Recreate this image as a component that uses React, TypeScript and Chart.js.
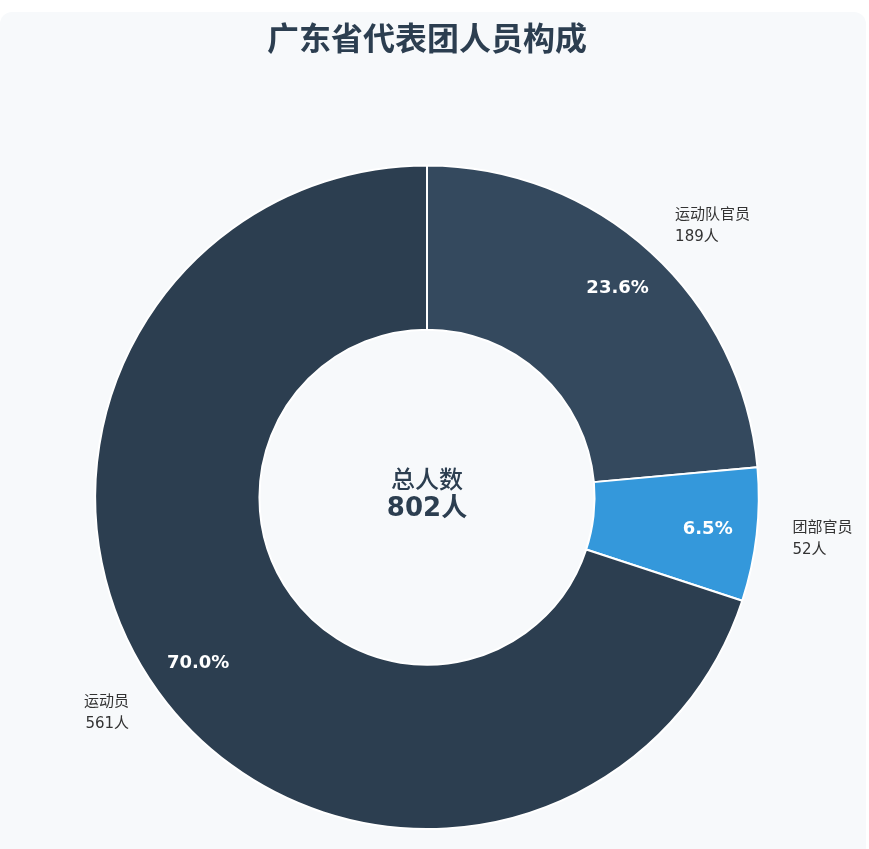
import { useRef, useEffect } from 'react';
import { Chart, registerables, type ChartConfiguration, type Plugin } from 'chart.js';

Chart.register(...registerables);

// 广东省代表团人员构成
const categories = ['运动队官员', '团部官员', '运动员'];
const counts = [189, 52, 561];
const colors = ['#34495e', '#3498db', '#2c3e50'];

const total = counts.reduce((a, b) => a + b, 0);
const labelFont = "'DejaVu Sans', 'Noto Sans CJK SC', sans-serif";

const sliceLabels: Plugin<'doughnut'> = {
    id: 'sliceLabels',
    afterDatasetsDraw(chart) {
        const ctx = chart.ctx;
        const meta = chart.getDatasetMeta(0);
        ctx.save();
        meta.data.forEach((el: any, i) => {
            const { x, y, startAngle, endAngle, innerRadius, outerRadius } = el.getProps(
                ['x', 'y', 'startAngle', 'endAngle', 'innerRadius', 'outerRadius'], true);
            const mid = (startAngle + endAngle) / 2;
            const cos = Math.cos(mid);
            const sin = Math.sin(mid);

            // percentage inside the slice
            const rp = innerRadius + (outerRadius - innerRadius) * 0.7;
            const pct = ((counts[i] / total) * 100).toFixed(1) + '%';
            ctx.fillStyle = '#ffffff';
            ctx.font = `bold 18px ${labelFont}`;
            ctx.textAlign = 'center';
            ctx.textBaseline = 'middle';
            ctx.fillText(pct, x + cos * rp, y + sin * rp);

            // name and count outside
            const ro = outerRadius + 36;
            const lx = x + cos * ro;
            const ly = y + sin * ro;
            ctx.fillStyle = '#333333';
            ctx.font = `15px ${labelFont}`;
            ctx.textAlign = cos >= 0 ? 'left' : 'right';
            ctx.fillText(categories[i], lx, ly - 11);
            ctx.fillText(counts[i] + '人', lx, ly + 11);
        });

        // centre text
        const first: any = meta.data[0];
        if (first) {
            ctx.fillStyle = '#2c3e50';
            ctx.textAlign = 'center';
            ctx.textBaseline = 'middle';
            ctx.font = `500 24px ${labelFont}`;
            ctx.fillText('总人数', first.x, first.y - 15);
            ctx.font = `bold 26px ${labelFont}`;
            ctx.fillText(total + '人', first.x, first.y + 12);
        }
        ctx.restore();
    }
};

export default function App() {
    const chartRef = useRef<HTMLCanvasElement>(null);

    useEffect(() => {
        if (!chartRef.current) return;
        const config: ChartConfiguration<'doughnut'> = {
            type: 'doughnut',
            data: {
                labels: categories,
                datasets: [{
                    data: counts,
                    backgroundColor: colors,
                    borderColor: '#ffffff',
                    borderWidth: 2,
                }]
            },
            options: {
                responsive: true,
                maintainAspectRatio: false,
                animation: false,
                cutout: '50.5%',
                layout: {
                    padding: { top: 0, bottom: 19, left: 0, right: 12 }
                },
                plugins: {
                    legend: { display: false },
                    tooltip: { enabled: false },
                    title: {
                        display: true,
                        text: '广东省代表团人员构成',
                        color: '#2c3e50',
                        font: { size: 32, weight: 'bold', family: "'Noto Sans CJK SC', sans-serif" },
                        padding: { top: 7, bottom: 107 }
                    }
                }
            },
            plugins: [sliceLabels]
        };
        const chart = new Chart(chartRef.current, config);
        return () => {
            chart.destroy();
        };
    }, []);

    return (
        <div style={{
            position: 'fixed', left: 0, top: 12, width: 866, height: 870,
            background: '#f7f9fb', borderRadius: 12
        }}>
            <div style={{ position: 'relative', width: 866, height: 837 }}>
                <canvas ref={chartRef}></canvas>
            </div>
        </div>
    );
}
